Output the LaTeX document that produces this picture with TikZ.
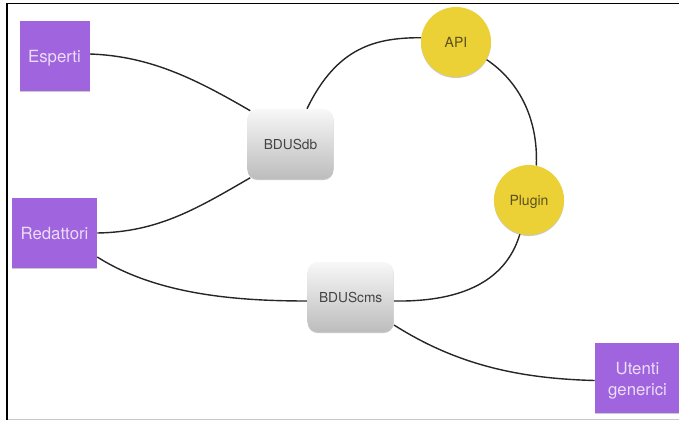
\documentclass[tikz,border=0pt]{standalone}
\usepackage{fontspec}
\setmainfont{TeX Gyre Heros}
\usetikzlibrary{shadows,calc}
\pgfdeclarelayer{bg}
\pgfsetlayers{bg,main}
\definecolor{purplebox}{HTML}{A064DE}
\definecolor{purpletext}{HTML}{EADDF8}
\definecolor{yellowdisc}{HTML}{ECD136}
\definecolor{darktext}{HTML}{444444}
\definecolor{yellowtext}{HTML}{5A5020}
\tikzset{
  softshadow/.style={drop shadow={shadow xshift=0pt,shadow yshift=-0.8pt,opacity=.35,fill=black!60}},
  person/.style={rectangle,fill=purplebox,text=purpletext,inner sep=0pt,align=center,
    text height=9.8pt,text depth=0pt,
    font=\fontsize{12.6}{15.75}\selectfont,softshadow},
  system/.style={rectangle,rounded corners=7.5pt,top color=gray!6,bottom color=gray!52,text=darktext,
    inner sep=0pt,minimum width=64.5pt,minimum height=52.5pt,text height=7.8pt,text depth=0pt,
    font=\fontsize{10.3}{12}\selectfont,softshadow},
  tool/.style={circle,fill=yellowdisc,text=yellowtext,inner sep=0pt,minimum size=52.5pt,
    text height=7.8pt,text depth=0pt,font=\fontsize{10.5}{12}\selectfont,softshadow},
  link/.style={draw=black!85,line width=1.05pt},
  frameline/.style={draw=black,line width=1pt},
  framefoot/.style={draw=black!22,line width=1pt}
}
\begin{document}
\begin{tikzpicture}[x=0.75pt,y=-0.75pt]
\useasboundingbox (0,0) rectangle (679,421);
\node[person,minimum width=52.5pt,minimum height=52.5pt] (esp) at (54.5,55.5) {Esperti};
\node[person,minimum width=63.75pt,minimum height=52.5pt] (red) at (54.5,233) {Redattori};
\node[person,minimum width=63.75pt,minimum height=52.5pt,text height=25.5pt] (ute) at (637.5,378) {Utenti\\generici};
\node[system] (db) at (290.5,144) {BDUSdb};
\node[system] (cms) at (350.7,297) {BDUScms};
\node[tool] (api) at (456,42) {API};
\node[tool] (plg) at (529,200) {Plugin};
\coordinate (tl) at (7,3.5);
\coordinate (tr) at (679,3.5);
\coordinate (bl) at (7,419.5);
\coordinate (br) at (679,419.5);
\begin{pgfonlayer}{bg}
\draw[framefoot] (bl) -- (br);
\draw[frameline] (br -| tl) -- (tl) -- (tr);
\draw[link] ([shift={(0,-1.5)}]esp.east) .. controls +(60,2) and +(-55,-32) .. ([shift={(3,2)}]db.north west);
\draw[link] (red.east) .. controls +(60,-1) and +(-55,32) .. ([shift={(3,-1.5)}]db.south west);
\draw[link] ([shift={(0,24)}]red.east) .. controls +(60,38) and +(-70,0) .. ([shift={(0,4)}]cms.west);
\draw[link] ([shift={(0,4)}]cms.east) .. controls +(61,1) and +(-15,51) .. (plg.255);
\draw[link] ([shift={(0,28)}]cms.east) .. controls +(60,38) and +(-80,-2) .. ([shift={(0,2.5)}]ute.west);
\draw[link] ([shift={(16.5,0)}]db.north) .. controls +(30,-62) and +(-45,0) .. (api.173);
\draw[link] (api.-30) .. controls +(30,20) and +(2,-50) .. (plg.78);
\end{pgfonlayer}
\end{tikzpicture}
\end{document}
